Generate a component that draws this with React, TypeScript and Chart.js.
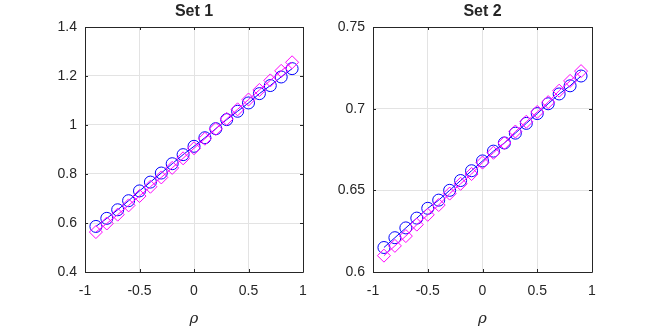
import React, { useEffect, useRef } from "react";
import { Chart, registerables } from "chart.js";

Chart.register(...registerables);

const RHO = [-0.9, -0.8, -0.7, -0.6, -0.5, -0.4, -0.3, -0.2, -0.1, 0, 0.1, 0.2, 0.3, 0.4, 0.5, 0.6, 0.7, 0.8, 0.9];

const SET1_CIRCLES = [0.586, 0.619, 0.654, 0.691, 0.731, 0.767, 0.804, 0.842, 0.879, 0.913, 0.948, 0.985, 1.022, 1.056, 1.090, 1.128, 1.161, 1.196, 1.230];
const SET1_DIAMONDS = [0.563, 0.598, 0.634, 0.672, 0.710, 0.748, 0.786, 0.825, 0.864, 0.905, 0.944, 0.984, 1.025, 1.064, 1.104, 1.143, 1.182, 1.221, 1.256];

const SET2_CIRCLES = [0.615, 0.621, 0.627, 0.633, 0.639, 0.644, 0.650, 0.656, 0.662, 0.668, 0.674, 0.679, 0.685, 0.691, 0.697, 0.703, 0.709, 0.714, 0.720];
const SET2_DIAMONDS = [0.610, 0.616, 0.622, 0.629, 0.635, 0.641, 0.648, 0.654, 0.660, 0.667, 0.673, 0.679, 0.686, 0.692, 0.698, 0.704, 0.711, 0.717, 0.723];

const TITLES = ["Set 1", "Set 2"];
const X_LABEL = "ρ";
const X_TICKS = [-1, -0.5, 0, 0.5, 1];
const SET1_Y_TICKS = [0.4, 0.6, 0.8, 1, 1.2, 1.4];
const SET2_Y_TICKS = [0.6, 0.65, 0.7, 0.75];

const AXIS_COLOR = "#262626";
const GRID_COLOR = "#e3e3e3";
const FONT = "'Liberation Sans', Arial, Helvetica, sans-serif";

type PanelCfg = {
  title: string;
  circles: number[];
  diamonds: number[];
  yTicks: number[];
  left: number;
  leftW: number;
  rightPad: number;
};

const fmt = (v: number) => String(Number(v.toFixed(3)));

const boxPlugin = (title: string, xTicks: number[], yTicks: number[]) => ({
  id: "matlabBox",
  afterDraw(chart: any) {
    const { ctx, chartArea } = chart;
    const { left, right, top, bottom } = chartArea;
    const xs = chart.scales.x;
    const ys = chart.scales.y;
    ctx.save();
    ctx.strokeStyle = AXIS_COLOR;
    ctx.lineWidth = 1;
    ctx.beginPath();
    ctx.rect(Math.round(left) + 0.5, Math.round(top) + 0.5, Math.round(right - left), Math.round(bottom - top));
    ctx.stroke();
    const tl = 3;
    ctx.beginPath();
    xTicks.forEach((t) => {
      const px = Math.round(xs.getPixelForValue(t)) + 0.5;
      ctx.moveTo(px, bottom);
      ctx.lineTo(px, bottom - tl);
      ctx.moveTo(px, top);
      ctx.lineTo(px, top + tl);
    });
    yTicks.forEach((t) => {
      const py = Math.round(ys.getPixelForValue(t)) + 0.5;
      ctx.moveTo(left, py);
      ctx.lineTo(left + tl, py);
      ctx.moveTo(right, py);
      ctx.lineTo(right - tl, py);
    });
    ctx.stroke();
    ctx.fillStyle = AXIS_COLOR;
    ctx.textAlign = "center";
    ctx.textBaseline = "middle";
    ctx.font = `bold 16px ${FONT}`;
    ctx.fillText(title, (left + right) / 2, 12);
    ctx.font = `italic 15px 'DejaVu Serif', 'Liberation Serif', serif`;
    ctx.fillText(X_LABEL, (left + right) / 2, 319);
    ctx.restore();
  },
});

function Panel({ cfg }: { cfg: PanelCfg }) {
  const ref = useRef<HTMLCanvasElement>(null);
  useEffect(() => {
    if (!ref.current) return;
    const yMin = cfg.yTicks[0];
    const yMax = cfg.yTicks[cfg.yTicks.length - 1];
    const yStep = cfg.yTicks[1] - cfg.yTicks[0];
    const chart = new Chart(ref.current, {
      type: "scatter",
      data: {
        datasets: [
          {
            data: RHO.map((x, i) => ({ x, y: cfg.diamonds[i] })),
            borderColor: "#ff00ff",
            backgroundColor: "rgba(0,0,0,0)",
            pointBackgroundColor: "rgba(0,0,0,0)",
            pointStyle: "rectRot",
            pointRadius: 6.5,
            pointBorderWidth: 1,
            pointBorderColor: "#ff00ff",
            showLine: true,
            borderWidth: 1,
          },
          {
            data: RHO.map((x, i) => ({ x, y: cfg.circles[i] })),
            borderColor: "#0000ff",
            backgroundColor: "rgba(0,0,0,0)",
            pointBackgroundColor: "rgba(0,0,0,0)",
            pointStyle: "circle",
            pointRadius: 6,
            pointBorderWidth: 1,
            pointBorderColor: "#0000ff",
            showLine: true,
            borderWidth: 1,
          },
        ],
      },
      options: {
        animation: false,
        responsive: false,
        maintainAspectRatio: false,
        events: [],
        layout: { padding: { left: 0, right: cfg.rightPad, top: 27, bottom: 0 } },
        plugins: { legend: { display: false }, tooltip: { enabled: false }, title: { display: false } },
        scales: {
          x: {
            type: "linear",
            min: -1,
            max: 1,
            ticks: {
              stepSize: 0.5,
              color: AXIS_COLOR,
              font: { family: FONT, size: 14 },
              padding: 11,
              maxRotation: 0,
              callback: (v: any) => fmt(Number(v)),
            },
            grid: { color: GRID_COLOR, drawTicks: false },
            border: { display: false },
            afterFit: (s: any) => {
              s.height = 55;
            },
          },
          y: {
            type: "linear",
            min: yMin,
            max: yMax,
            ticks: {
              stepSize: yStep,
              color: AXIS_COLOR,
              font: { family: FONT, size: 14 },
              padding: 8,
              callback: (v: any) => fmt(Number(v)),
            },
            grid: { color: GRID_COLOR, drawTicks: false },
            border: { display: false },
            afterFit: (s: any) => {
              s.width = cfg.leftW;
            },
          },
        },
      },
      plugins: [boxPlugin(cfg.title, X_TICKS, cfg.yTicks)],
    } as any);
    return () => chart.destroy();
  }, [cfg]);
  return (
    <canvas
      ref={ref}
      width={327}
      height={327}
      style={{ position: "absolute", left: cfg.left, top: 0, width: 327, height: 327 }}
    />
  );
}

const PANELS: PanelCfg[] = [
  { title: TITLES[0], circles: SET1_CIRCLES, diamonds: SET1_DIAMONDS, yTicks: SET1_Y_TICKS, left: 0, leftW: 85, rightPad: 24 },
  { title: TITLES[1], circles: SET2_CIRCLES, diamonds: SET2_DIAMONDS, yTicks: SET2_Y_TICKS, left: 327, leftW: 46, rightPad: 62 },
];

export default function App() {
  return (
    <div style={{ position: "fixed", left: 0, top: 0, width: 654, height: 327, background: "#fff" }}>
      {PANELS.map((p, i) => (
        <Panel key={i} cfg={p} />
      ))}
    </div>
  );
}
